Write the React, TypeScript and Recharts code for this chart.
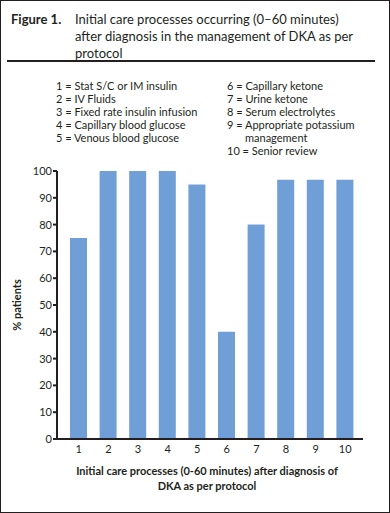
import { Bar, BarChart, XAxis, YAxis } from "recharts"

const categories = ["1", "2", "3", "4", "5", "6", "7", "8", "9", "10"]
const percentPatients = [75, 100, 100, 100, 95, 40, 80, 96.7, 96.7, 96.7]
const yTicks = [0, 10, 20, 30, 40, 50, 60, 70, 80, 90, 100]

const legendLeft = [
  ["1 =", "Stat S/C or IM insulin"],
  ["2 =", "IV Fluids"],
  ["3 =", "Fixed rate insulin infusion"],
  ["4 =", "Capillary blood glucose"],
  ["5 =", "Venous blood glucose"],
]
const legendRight = [
  ["6 =", "Capillary ketone"],
  ["7 =", "Urine ketone"],
  ["8 =", "Serum electrolytes"],
  ["9 =", "Appropriate potassium management"],
  ["10 =", "Senior review"],
]

const data = categories.map((name, i) => ({ name, value: percentPatients[i] }))

const ink = "#231f20"
const font = "Lato, 'Open Sans', sans-serif"

function LegendColumn({ items, left, width }: { items: string[][]; left: number; width: number }) {
  return (
    <div style={{ position: "absolute", left, top: 78, width, fontSize: 11, lineHeight: "13px" }}>
      {items.map(([num, label]) => (
        <div key={num} style={{ paddingLeft: 18, textIndent: -18 }}>
          {num} {label}
        </div>
      ))}
    </div>
  )
}

export default function App() {
  return (
    <div
      style={{
        position: "absolute",
        left: 0,
        top: 0,
        width: 390,
        height: 513,
        boxSizing: "border-box",
        border: `1.5px solid ${ink}`,
        background: "#fff",
        fontFamily: font,
        color: ink,
        overflow: "hidden",
      }}
    >
      <div style={{ position: "absolute", left: 10, top: 10, fontSize: 13, fontWeight: 700 }}>Figure 1.</div>
      <div style={{ position: "absolute", left: 74, top: 10, width: 290, fontSize: 13, lineHeight: "17px" }}>
        Initial care processes occurring (0–60 minutes) after diagnosis in the management of DKA as per protocol
      </div>
      <div style={{ position: "absolute", left: 6, top: 59, width: 368, height: 2, background: ink }} />

      <LegendColumn items={legendLeft} left={55} width={170} />
      <LegendColumn items={legendRight} left={226} width={140} />

      <div style={{ position: "absolute", left: -1.5, top: -1.5 }}>
        <BarChart width={390} height={513} data={data} margin={{ top: 171, right: 27, bottom: 44, left: 0 }}>
          <XAxis
            dataKey="name"
            stroke={ink}
            strokeWidth={2}
            tickLine={false}
            tickSize={4}
            tickMargin={2}
            padding={{ left: 7, right: 3 }}
            tick={{ fill: ink, fontSize: 11, fontFamily: font }}
            height={30}
          />
          <YAxis
            domain={[0, 100]}
            ticks={yTicks}
            width={57}
            stroke={ink}
            strokeWidth={2}
            tickSize={4}
            tickMargin={1}
            tick={{ fill: ink, fontSize: 11, fontFamily: font }}
            label={{
              value: "% patients",
              angle: -90,
              position: "insideLeft",
              offset: 17,
              style: { textAnchor: "middle", fill: ink, fontSize: 11, fontWeight: 700, fontFamily: font },
            }}
          />
          <Bar dataKey="value" fill="#6f9fd6" barSize={17} isAnimationActive={false} />
        </BarChart>
      </div>

      <div
        style={{
          position: "absolute",
          left: 56,
          top: 462,
          width: 300,
          textAlign: "center",
          fontSize: 11,
          fontWeight: 700,
          lineHeight: "15px",
        }}
      >
        Initial care processes (0-60 minutes) after diagnosis of
        <br />
        DKA as per protocol
      </div>
    </div>
  )
}
